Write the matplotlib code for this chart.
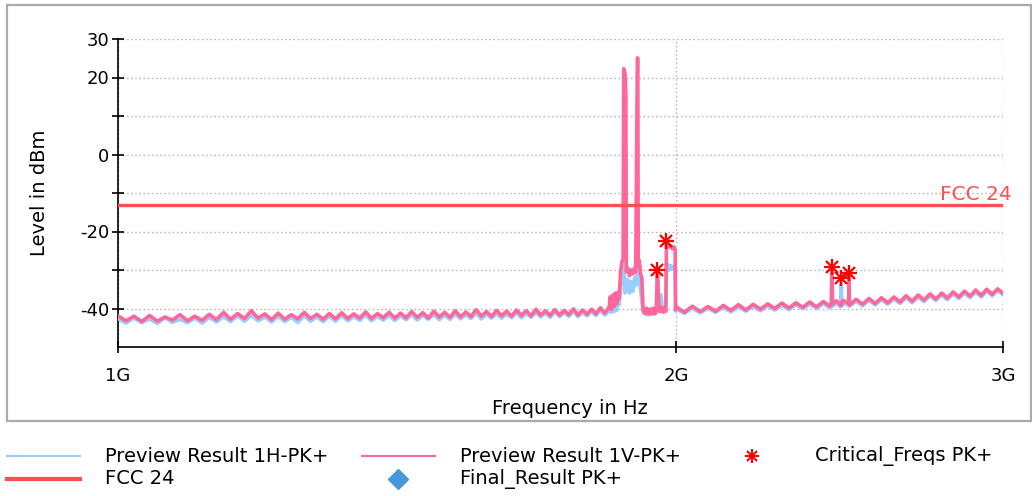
import matplotlib
matplotlib.use("Agg")
import matplotlib.pyplot as plt
from matplotlib.lines import Line2D
from matplotlib.patches import Rectangle
from matplotlib.ticker import FixedLocator, FixedFormatter, NullLocator

# ---- data (GHz / dBm) ----
# low band 1.00 .. 1.84 GHz
freq_low = [1.00, 1.01, 1.02, 1.03, 1.04, 1.05, 1.06, 1.07, 1.08, 1.09,
            1.10, 1.11, 1.12, 1.13, 1.14, 1.15, 1.16, 1.17, 1.18, 1.19,
            1.20, 1.21, 1.22, 1.23, 1.24, 1.25, 1.26, 1.27, 1.28, 1.29,
            1.30, 1.31, 1.32, 1.33, 1.34, 1.35, 1.36, 1.37, 1.38, 1.39,
            1.40, 1.41, 1.42, 1.43, 1.44, 1.45, 1.46, 1.47, 1.48, 1.49,
            1.50, 1.51, 1.52, 1.53, 1.54, 1.55, 1.56, 1.57, 1.58, 1.59,
            1.60, 1.61, 1.62, 1.63, 1.64, 1.65, 1.66, 1.67, 1.68, 1.69,
            1.70, 1.71, 1.72, 1.73, 1.74, 1.75, 1.76, 1.77, 1.78, 1.79,
            1.80, 1.81, 1.82, 1.83, 1.84]
v_low = [-41.9, -43.2, -42.0, -43.4, -41.8, -43.3, -42.2, -43.0, -41.6, -43.2,
         -42.0, -43.1, -41.5, -42.9, -41.0, -42.8, -41.3, -42.6, -40.6, -42.5,
         -41.4, -42.9, -41.2, -42.8, -41.6, -42.7, -41.0, -42.6, -41.5, -42.8,
         -41.3, -42.7, -41.1, -42.6, -41.4, -42.5, -40.9, -42.6, -41.3, -42.4,
         -41.0, -42.5, -41.2, -42.4, -40.8, -42.3, -41.1, -42.5, -40.7, -42.2,
         -41.0, -42.3, -40.6, -42.2, -40.9, -42.1, -40.3, -42.0, -40.8, -42.1,
         -40.5, -41.9, -40.7, -42.0, -40.4, -41.8, -40.6, -41.9, -40.2, -41.7,
         -40.6, -41.8, -40.3, -41.7, -40.5, -41.6, -40.1, -41.7, -40.4, -41.5,
         -40.2, -41.4, -39.8, -41.2, -39.6]
h_low = [-42.6, -43.8, -42.5, -43.7, -42.7, -43.9, -42.4, -43.6, -42.8, -43.7,
         -42.5, -43.8, -42.3, -43.5, -42.1, -43.4, -41.9, -43.3, -41.8, -43.2,
         -42.2, -43.5, -42.0, -43.4, -42.3, -43.6, -41.9, -43.3, -42.2, -43.4,
         -42.0, -43.3, -41.8, -43.2, -42.1, -43.1, -41.7, -43.2, -42.0, -43.0,
         -41.8, -43.1, -41.9, -42.9, -41.6, -43.0, -41.8, -42.8, -41.5, -42.9,
         -41.7, -42.8, -41.4, -42.7, -41.6, -42.6, -41.2, -42.7, -41.5, -42.5,
         -41.3, -42.5, -41.4, -42.4, -41.1, -42.4, -41.3, -42.3, -41.0, -42.2,
         -41.2, -42.3, -40.9, -42.1, -41.1, -42.0, -40.8, -42.1, -41.0, -41.9,
         -40.8, -41.8, -40.5, -41.7, -40.6]

# carrier region 1.84 .. 2.00 GHz
freq_mid = [1.842, 1.845, 1.848, 1.851, 1.854, 1.857, 1.860, 1.863, 1.866, 1.869,
            1.872, 1.8735, 1.8765, 1.8785, 1.8795, 1.883, 1.887, 1.891, 1.895, 1.899,
            1.9015, 1.9055, 1.9065, 1.9075, 1.910, 1.913, 1.916, 1.919, 1.923, 1.927,
            1.931, 1.935, 1.939, 1.943, 1.947, 1.951, 1.9535, 1.9555, 1.958, 1.962,
            1.966, 1.970, 1.974, 1.9755, 1.978, 1.982, 1.986, 1.990, 1.994, 1.997,
            1.998]
v_mid = [-37.0, -40.2, -36.5, -39.5, -36.0, -38.8, -35.8, -37.5, -30.5, -28.0,
         -27.0, 22.3, 21.0, 15.6, -30.5, -29.5, -31.5, -30.0, -31.0, -29.5,
         -30.5, 25.1, 25.0, -29.0, -27.5, -31.0, -32.0, -40.0, -41.3, -39.9,
         -41.4, -40.1, -41.3, -39.9, -41.4, -40.0, -30.1, -36.5, -40.8, -39.6,
         -40.9, -39.8, -40.7, -23.0, -23.2, -24.0, -23.6, -24.5, -24.0, -24.8,
         -40.3]
h_mid = [-40.2, -41.0, -40.0, -40.8, -39.5, -40.5, -38.0, -39.0, -35.0, -32.0,
         -29.5, -27.5, -36.0, -33.5, -35.5, -32.5, -36.0, -33.0, -35.5, -32.0,
         -34.0, -29.0, -28.5, -31.0, -33.0, -35.0, -38.0, -41.0, -40.5, -41.6,
         -40.6, -41.7, -40.7, -41.5, -40.5, -41.2, -32.0, -35.5, -37.5, -36.5,
         -40.2, -41.0, -40.3, -29.5, -28.5, -30.0, -28.8, -29.8, -29.0, -30.0,
         -40.6]

# high band 2.00 .. 3.00 GHz
freq_high = [2.00, 2.02, 2.04, 2.06, 2.08, 2.10, 2.12, 2.14, 2.16, 2.18, 2.20,
             2.22, 2.24, 2.26, 2.28, 2.30, 2.32, 2.34, 2.36, 2.38, 2.40, 2.42,
             2.424, 2.426, 2.428, 2.44, 2.452, 2.454, 2.456, 2.46,
             2.477, 2.478, 2.479, 2.48,
             2.50, 2.52, 2.54, 2.56, 2.58, 2.60, 2.62, 2.64, 2.66, 2.68,
             2.70, 2.72, 2.74, 2.76, 2.78, 2.80, 2.82, 2.84, 2.86, 2.88,
             2.90, 2.92, 2.94, 2.96, 2.98, 3.00]
v_high = [-39.6, -41.0, -39.4, -40.8, -39.5, -40.7, -39.2, -40.5, -39.0, -40.4, -38.9,
          -40.2, -38.8, -40.0, -38.6, -39.9, -38.5, -39.7, -38.3, -39.6, -38.2, -39.4,
          -38.9, -29.3, -38.8, -38.0, -39.2, -38.4, -39.0, -37.9,
          -38.7, -30.7, -38.6, -39.1,
          -37.6, -38.9, -37.4, -38.7, -37.2, -38.5, -37.0, -38.3, -36.7, -38.1,
          -36.5, -37.8, -36.2, -37.5, -36.0, -37.3, -35.7, -37.0, -35.5, -36.8,
          -35.2, -36.6, -35.0, -36.3, -34.9, -36.0]
h_high = [-40.1, -41.3, -39.9, -41.1, -40.0, -41.0, -39.7, -40.9, -39.6, -40.7, -39.5,
          -40.6, -39.3, -40.4, -39.2, -40.3, -39.0, -40.1, -38.9, -40.0, -38.7, -39.8,
          -39.3, -39.0, -39.4, -38.6, -39.5, -32.2, -39.4, -38.5,
          -39.2, -39.0, -39.3, -39.4,
          -38.1, -39.3, -37.9, -39.1, -37.7, -38.9, -37.5, -38.7, -37.2, -38.5,
          -37.0, -38.2, -36.7, -37.9, -36.5, -37.7, -36.2, -37.4, -36.0, -37.2,
          -35.7, -37.0, -35.5, -36.7, -35.3, -36.4]

crit_freq = [1.9535, 1.9755, 2.426, 2.454, 2.478]
crit_level = [-30.1, -22.5, -29.3, -32.2, -30.7]

fcc_limit = -13.0
fcc_span = [1.0, 3.0]

y_ticks = [30, 20, 10, 0, -10, -20, -30, -40]
y_labels = ['30', '20', '', '0', '', '-20', '', '-40']
x_ticks = [1.0, 2.0, 3.0]
x_labels = ['1G', '2G', '3G']

freq = freq_low + freq_mid + freq_high
level_h = h_low + h_mid + h_high
level_v = v_low + v_mid + v_high

c_h = '#99ccff'
c_v = '#ff6699'
c_fcc = '#ff5050'
c_crit = '#ff0000'
c_final = '#4499dd'

plt.rcParams['font.family'] = 'DejaVu Sans'
plt.rcParams['font.size'] = 13

W, H = 1032, 496
fig = plt.figure(figsize=(W / 100, H / 100), dpi=100)

def fx(px):
    return px / W

def fy(py):
    return 1 - py / H

# outer grey frame
fig.patches.append(Rectangle((fx(7), fy(421)), fx(1031) - fx(7), fy(5) - fy(421),
                             transform=fig.transFigure, fill=False,
                             edgecolor='#aaaaaa', linewidth=1.6, zorder=0))

ax = fig.add_axes([fx(118), fy(347), fx(1003) - fx(118), fy(39) - fy(347)])
ax.set_xscale('log')
ax.set_xlim(1.0, 3.0)
ax.set_ylim(-50, 30)

ax.plot(freq, level_h, color=c_h, lw=2.6, zorder=3)
ax.plot(freq, level_v, color=c_v, lw=2.6, zorder=4)
ax.plot(fcc_span, [fcc_limit, fcc_limit], color=c_fcc, lw=2.4, zorder=5)
ax.annotate('FCC 24', (3.0, fcc_limit), xytext=(6, 3), textcoords='offset points',
            ha='right', va='baseline', color=c_fcc, fontsize=14.5,
            annotation_clip=False)

# asterisk markers
ax.plot(crit_freq, crit_level, ls='none', marker='+', ms=11, mew=1.6, color=c_crit, zorder=6)
ax.plot(crit_freq, crit_level, ls='none', marker='x', ms=8, mew=1.6, color=c_crit, zorder=6)

ax.xaxis.set_major_locator(FixedLocator(x_ticks))
ax.xaxis.set_major_formatter(FixedFormatter(x_labels))
ax.xaxis.set_minor_locator(NullLocator())
ax.yaxis.set_major_locator(FixedLocator(y_ticks))
ax.yaxis.set_major_formatter(FixedFormatter(y_labels))

ax.grid(True, color='#b8b8b8', linestyle=(0, (1.2, 1.8)), linewidth=1.0)
ax.set_axisbelow(True)
for s in ['top', 'right']:
    ax.spines[s].set_visible(False)
for s in ['left', 'bottom']:
    ax.spines[s].set_linewidth(1.2)
ax.tick_params(axis='y', direction='inout', length=9, width=1.2, pad=2, labelsize=13)
ax.tick_params(axis='x', direction='inout', length=9, width=1.2, pad=10, labelsize=13)

ax.set_ylabel('Level in dBm', fontsize=14)
ax.yaxis.set_label_coords(-0.078, 0.5)
ax.set_xlabel('Frequency in Hz', fontsize=14)
ax.xaxis.set_label_coords(0.511, -0.168)

# legend below the frame
r1, r2 = 456, 479
fig.lines.append(Line2D([fx(7), fx(80)], [fy(r1), fy(r1)], transform=fig.transFigure, color=c_h, lw=1.5))
fig.lines.append(Line2D([fx(7), fx(80)], [fy(r2), fy(r2)], transform=fig.transFigure, color=c_fcc, lw=3.0))
fig.lines.append(Line2D([fx(362), fx(435)], [fy(r1), fy(r1)], transform=fig.transFigure, color=c_v, lw=1.5))
fig.lines.append(Line2D([fx(398)], [fy(r2)], transform=fig.transFigure, ls='none',
                        marker='D', ms=10, color=c_final))
fig.lines.append(Line2D([fx(752)], [fy(r1)], transform=fig.transFigure, ls='none',
                        marker='+', ms=10, mew=1.5, color=c_crit))
fig.lines.append(Line2D([fx(752)], [fy(r1)], transform=fig.transFigure, ls='none',
                        marker='x', ms=7, mew=1.5, color=c_crit))

legend_items = [
    (105, r1, 'Preview Result 1H-PK+'),
    (105, r2, 'FCC 24'),
    (460, r1, 'Preview Result 1V-PK+'),
    (460, r2, 'Final_Result PK+'),
    (815, r1, 'Critical_Freqs PK+'),
]
for x, y, t in legend_items:
    fig.text(fx(x), fy(y), t, ha='left', va='center', fontsize=14)

fig.savefig('out.png', dpi=100)
